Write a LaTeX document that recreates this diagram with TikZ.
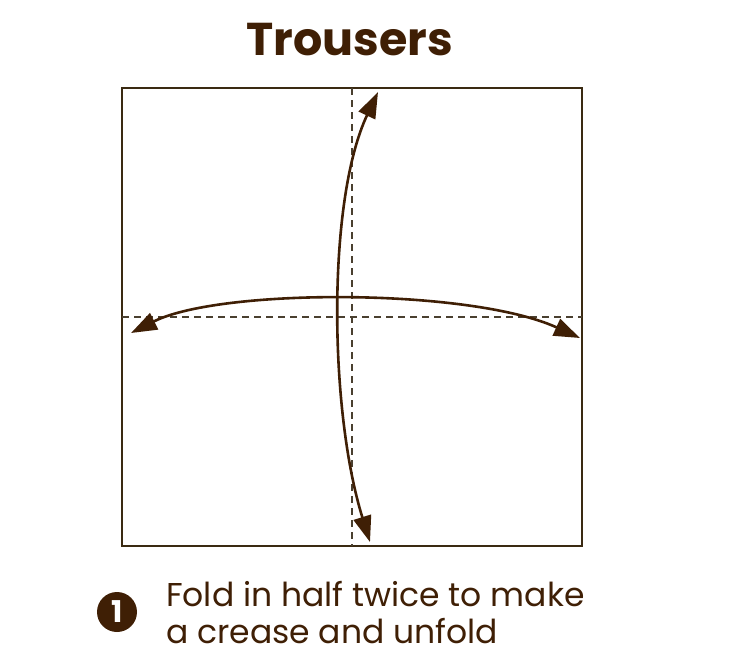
\documentclass[tikz,border=0pt]{standalone}
\usepackage{fontspec}
\setmainfont{Poppins}
\usetikzlibrary{arrows.meta}
\definecolor{brn}{HTML}{3F1F05}
\definecolor{frame}{HTML}{3A2A12}
\definecolor{dash}{HTML}{4A4030}
\tikzset{
  paper/.style={draw=frame, line width=1.4pt},
  crease/.style={draw=dash, line width=1.4pt, dash pattern=on 7pt off 5pt},
  foldarrow/.style={draw=brn, line width=2.6pt, {Triangle[length=26pt,width=18pt]}-{Triangle[length=26pt,width=18pt]}},
}
\begin{document}
\begin{tikzpicture}[x=1pt,y=-1pt]
\useasboundingbox (0,0) rectangle (732,665);
\node[font=\bfseries\fontsize{46}{50}\selectfont, text=brn] (title) at (350,40) {Trousers};
\draw[paper] (122,88) rectangle (582,546);
\coordinate (vt) at (352,88); \coordinate (vb) at (352,546);
\coordinate (hl) at (122,317); \coordinate (hr) at (582,317);
\draw[crease] (vt) -- (vb);
\draw[crease] (hl) -- (hr);
\coordinate (at) at (378,92); \coordinate (ab) at (370,542);
\coordinate (al) at (131,333); \coordinate (ar) at (580,338);
\draw[foldarrow] (at) .. controls (327,200) and (329,410) .. (ab);
\draw[foldarrow] (al) .. controls (220,288) and (470,288) .. (ar);
\node[circle, fill=brn, minimum size=40pt, inner sep=0pt, text=white, font=\bfseries\fontsize{30}{30}\selectfont] (num) at (117,612) {1};
\node[anchor=west, align=left, text=brn, font=\fontsize{33}{37}\selectfont, inner sep=0pt] (txt) at (166,613) {Fold in half twice to make\\a crease and unfold};
\end{tikzpicture}
\end{document}
